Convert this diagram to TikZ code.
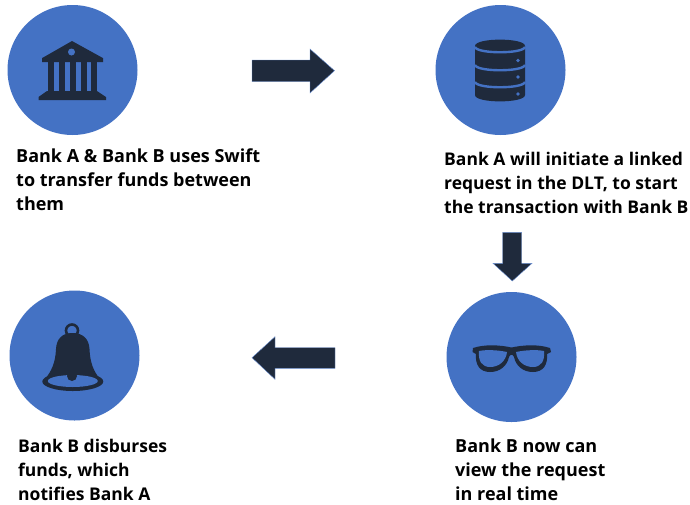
\documentclass[tikz,border=0pt]{standalone}
\usepackage{fontspec}
\setmainfont{Open Sans}
\definecolor{cblue}{HTML}{4472C4}
\definecolor{cdark}{HTML}{1F2A3C}
\tikzset{
  disc/.style={circle,fill=cblue,draw=none,minimum size=130pt,inner sep=0pt},
  icon/.style={fill=cdark,draw=none},
  hole/.style={fill=cblue,draw=none},
  arrowshape/.style={fill=cdark,draw=cblue!80,line width=0.4pt},
  caption/.style={anchor=north west,align=left,inner sep=0pt,font=\fontsize{18}{24}\selectfont\bfseries,text=black},
  captionsmall/.style={caption,font=\fontsize{17.5}{24}\selectfont\bfseries}
}
\begin{document}
\begin{tikzpicture}[x=1pt,y=-1pt]
\useasboundingbox (0,0) rectangle (690,504);
\node[disc] (d1) at (72.5,70) {};
\node[disc] (d2) at (500.5,70) {};
\node[disc] (d3) at (511.5,357) {};
\node[disc] (d4) at (74.5,355.5) {};
% bank
\fill[icon] (72,41) -- (101,57) -- (103,58) -- (103,62) -- (42,62) -- (42,58) -- (44,57) -- cycle;
\fill[hole] (71.5,52) circle (3.5);
\foreach \x in {48,59,69.5,80.5,91}{\fill[icon] (\x,61) rectangle ++(6,31);}
\fill[icon] (47,91) -- (97,91) -- (106,97) -- (106,100) -- (38.5,100) -- (38.5,97) -- cycle;
% database
\begin{scope}[shift={(430,0)}]
\fill[icon] (45,46) -- (45,95) .. controls (45,103.5) and (95,103.5) .. (95,95) -- (95,46) .. controls (95,37.5) and (45,37.5) .. (45,46) -- cycle;
\foreach \y in {47,65,82}{\draw[cblue,line width=2.4pt] (45,\y) .. controls (47,\y+7) and (93,\y+7) .. (95,\y);}
\foreach \y in {60.5,77,94}{\fill[hole] (88,\y) circle (1.9);}
\end{scope}
% glasses
\begin{scope}[shift={(440,290)}]
\fill[icon] (33,58) .. controls (45,54) and (60,55) .. (71.5,57.5) .. controls (83,55) and (98,54) .. (110,58) -- (111,62) -- (107,64) .. controls (108,75) and (103,82) .. (93,82) .. controls (83,82) and (76,76) .. (74,67) .. controls (73,64) and (70,64) .. (69,67) .. controls (67,76) and (60,82) .. (50,82) .. controls (40,82) and (35,75) .. (36,64) -- (32.5,62) -- cycle;
\fill[hole] (39,61) .. controls (46,59.5) and (58,60) .. (67,62) .. controls (66,71) and (59,77) .. (50,77) .. controls (42,77) and (38,71) .. (39,61) -- cycle;
\fill[hole] (104,61) .. controls (97,59.5) and (85,60) .. (76,62) .. controls (77,71) and (84,77) .. (93,77) .. controls (101,77) and (105,71) .. (104,61) -- cycle;
\end{scope}
% bell
\begin{scope}[shift={(0,295)}]
\draw[cdark,line width=2.6pt] (72,35.5) circle (6);
\fill[icon] (72.5,38) .. controls (62,38) and (56.5,44) .. (56,54) .. controls (55.5,68) and (51,77) .. (45,84) -- (100,84) .. controls (94,77) and (90,68) .. (89.5,54) .. controls (89,44) and (83,38) .. (72.5,38) -- cycle;
\fill[icon] (72.8,86.5) ellipse (30.5 and 9.5);
\fill[hole] (72.8,86) ellipse (25 and 6);
\fill[icon] (72,81) circle (5);
\fill[icon] (52,78) .. controls (60,79.5) and (85,79.5) .. (93,78) -- (96,81) .. controls (85,79.5) and (60,79.5) .. (49,81) -- cycle;
\end{scope}
% arrows
\filldraw[arrowshape] (252,60) -- (310,60) -- (310,49) -- (334.5,70.7) -- (310,93) -- (310,81.7) -- (252,81.7) -- cycle;
\filldraw[arrowshape] (502.7,232.3) -- (521.7,232.3) -- (521.7,263.3) -- (532,263.3) -- (512.3,281) -- (493,263.3) -- (502.7,263.3) -- cycle;
\filldraw[arrowshape] (335,347.7) -- (275,347.7) -- (275,336.7) -- (252,357.7) -- (275,379.3) -- (275,368.3) -- (335,368.3) -- cycle;
% captions
\node[caption] (t1) at (16,148.5) {Bank A \& Bank B uses Swift\\to transfer funds between\\them};
\node[captionsmall] (t2) at (444,152) {Bank A will initiate a linked\\request in the DLT, to start\\the transaction with Bank B};
\node[caption] (t3) at (455,439) {Bank B now can\\view the request\\in real time};
\node[captionsmall] (t4) at (18,439) {Bank B disburses\\funds, which\\notifies Bank A};
\end{tikzpicture}
\end{document}
